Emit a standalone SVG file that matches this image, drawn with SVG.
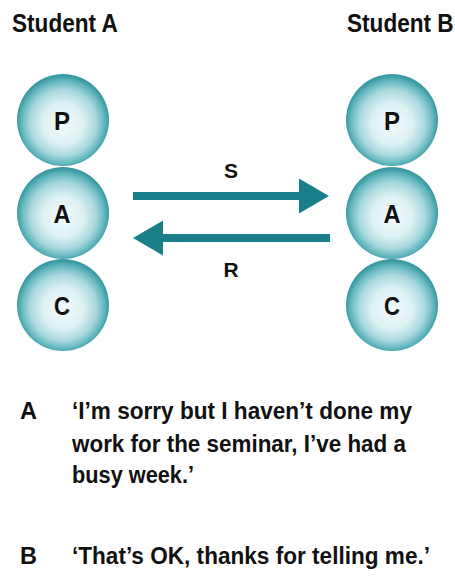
<svg xmlns="http://www.w3.org/2000/svg" width="455" height="579" viewBox="0 0 455 579">
<style>
  text { font-family: "Liberation Sans", Arial, sans-serif; font-weight: bold; fill: #111; }
  .title { font-size: 22.6px; }
  .node-label { font-size: 26px; text-anchor: middle; }
  .arrow-label { font-size: 21px; text-anchor: middle; }
  .dialog { font-size: 23.5px; }
  .sphere { fill: url(#sphereGrad); }
  .conn { stroke: #1a7f8a; stroke-width: 8; fill: none; }
</style>
<defs>
  <radialGradient id="sphereGrad" cx="0.5" cy="0.52" r="0.5" fx="0.5" fy="0.56">
    <stop offset="0" stop-color="#f4fbfb"/>
    <stop offset="0.45" stop-color="#dcf0f2"/>
    <stop offset="0.72" stop-color="#a8d8dc"/>
    <stop offset="0.9" stop-color="#63b7bf"/>
    <stop offset="1" stop-color="#3a9aa3"/>
  </radialGradient>
  <marker id="head" viewBox="0 0 30 35" refX="0" refY="17.5" markerWidth="30" markerHeight="35" markerUnits="userSpaceOnUse" orient="auto">
    <polygon points="0,0 30,17.5 0,35" fill="#1a7f8a"/>
  </marker>
</defs>
<rect width="455" height="579" fill="#ffffff"/>

<text class="title" transform="translate(12,32) scale(1,1.12)" x="0" y="0">Student A</text>
<text class="title" transform="translate(347,32) scale(1,1.12)" x="0" y="0">Student B</text>

<g id="nodeA-P"><circle class="sphere" cx="63" cy="120" r="46"/><text class="node-label" x="62" y="129.5" textLength="16" lengthAdjust="spacingAndGlyphs">P</text></g>
<g id="nodeA-A"><circle class="sphere" cx="63" cy="213" r="46"/><text class="node-label" x="62" y="222.5" textLength="17" lengthAdjust="spacingAndGlyphs">A</text></g>
<g id="nodeA-C"><circle class="sphere" cx="63" cy="305" r="46"/><text class="node-label" x="62" y="314.5" textLength="16" lengthAdjust="spacingAndGlyphs">C</text></g>

<g id="nodeB-P"><circle class="sphere" cx="392" cy="120" r="46"/><text class="node-label" x="392" y="129.5" textLength="16" lengthAdjust="spacingAndGlyphs">P</text></g>
<g id="nodeB-A"><circle class="sphere" cx="392" cy="213" r="46"/><text class="node-label" x="392" y="222.5" textLength="17" lengthAdjust="spacingAndGlyphs">A</text></g>
<g id="nodeB-C"><circle class="sphere" cx="392" cy="305" r="46"/><text class="node-label" x="392" y="314.5" textLength="16" lengthAdjust="spacingAndGlyphs">C</text></g>

<g id="connectors">
  <path class="conn" d="M133,196 H299" marker-end="url(#head)"/>
  <path class="conn" d="M330,238 H163" marker-end="url(#head)"/>
  <text class="arrow-label" x="231" y="178">S</text>
  <text class="arrow-label" x="231" y="277">R</text>
</g>

<g id="dialogue">
  <text class="dialog" x="20" y="419">A</text>
  <text class="dialog" x="72" y="419" textLength="340" lengthAdjust="spacingAndGlyphs">‘I’m sorry but I haven’t done my</text>
  <text class="dialog" x="72" y="451.5" textLength="334" lengthAdjust="spacingAndGlyphs">work for the seminar, I’ve had a</text>
  <text class="dialog" x="72" y="483" textLength="122" lengthAdjust="spacingAndGlyphs">busy week.’</text>
  <text class="dialog" x="20" y="563.5">B</text>
  <text class="dialog" x="72" y="563.5" textLength="358" lengthAdjust="spacingAndGlyphs">‘That’s OK, thanks for telling me.’</text>
</g>
</svg>
